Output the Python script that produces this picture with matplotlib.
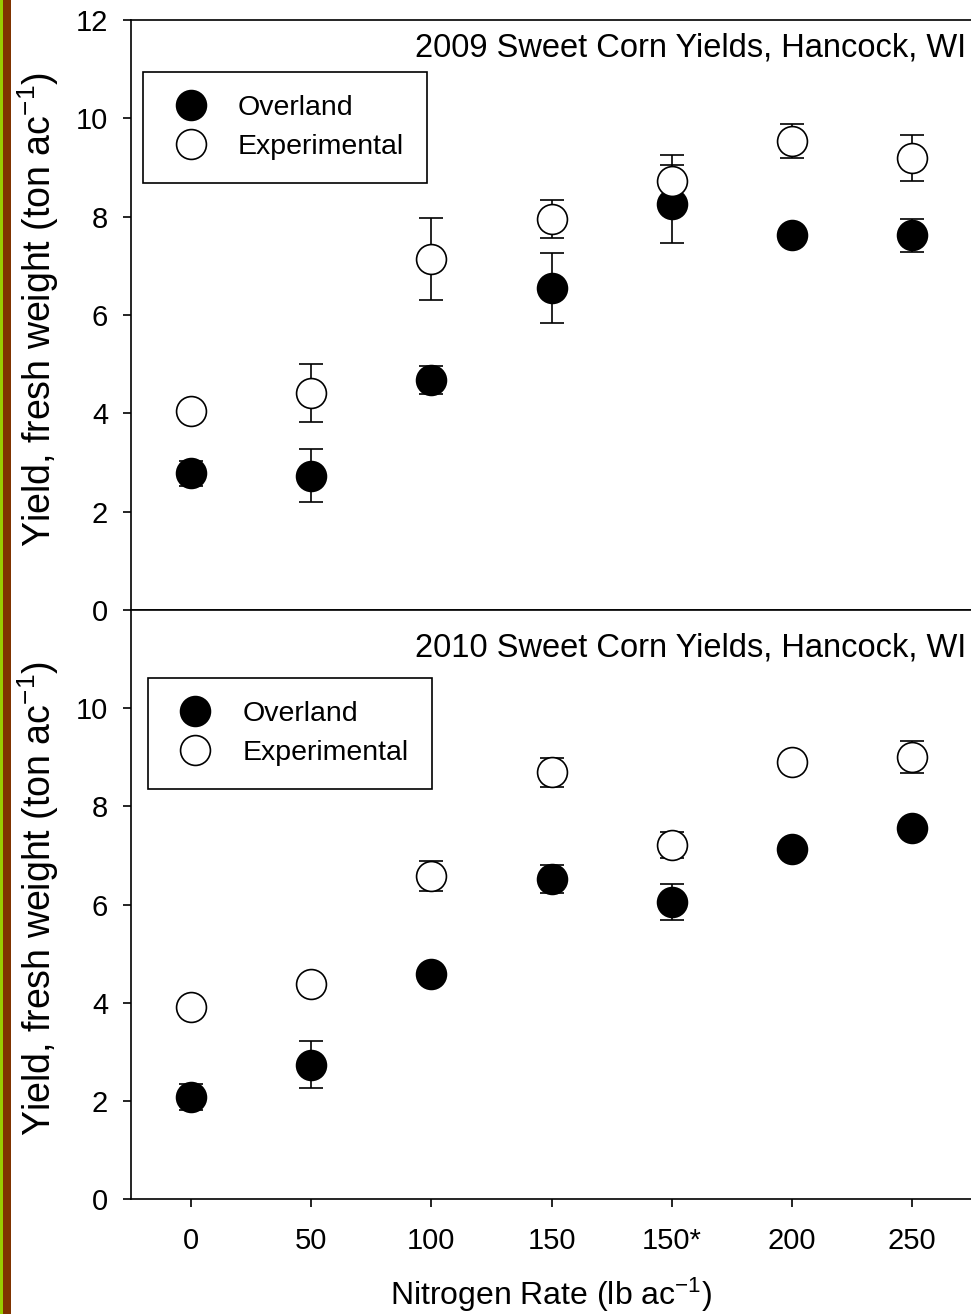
import matplotlib
matplotlib.use("Agg")
import matplotlib.pyplot as plt
from matplotlib.patches import Rectangle
from matplotlib.lines import Line2D
import numpy as np

plt.rcParams['font.family'] = ['Liberation Sans', 'DejaVu Sans']
plt.rcParams['mathtext.fontset'] = 'custom'
plt.rcParams['mathtext.rm'] = 'Liberation Sans'
plt.rcParams['mathtext.it'] = 'Liberation Sans:italic'

# nitrogen rate categories (150* is a separate treatment)
rates = ['0', '50', '100', '150', '150*', '200', '250']

# 2009 yields, ton/ac
overland_2009 = [2.78, 2.73, 4.68, 6.55, 8.26, 7.63, 7.62]
overland_2009_err = [0.25, 0.54, 0.29, 0.72, 0.79, 0.15, 0.34]
exper_2009 = [4.05, 4.41, 7.14, 7.95, 8.73, 9.54, 9.19]
exper_2009_err = [0.1, 0.59, 0.83, 0.38, 0.52, 0.35, 0.47]

# 2010 yields, ton/ac
overland_2010 = [2.08, 2.74, 4.58, 6.52, 6.05, 7.13, 7.55]
overland_2010_err = [0.26, 0.48, 0.1, 0.29, 0.36, 0.1, 0.1]
exper_2010 = [3.91, 4.39, 6.58, 8.69, 7.21, 8.91, 9.01]
exper_2010_err = [0.1, 0.1, 0.31, 0.29, 0.27, 0.1, 0.33]

titles = ['2009 Sweet Corn Yields, Hancock, WI', '2010 Sweet Corn Yields, Hancock, WI']

W, H = 971, 1314
fig = plt.figure(figsize=(W / 100, H / 100), dpi=100)

# decorative bar on the left edge
fig.patches.append(Rectangle((0, 0), 3 / W, 1, transform=fig.transFigure,
                             facecolor='#99cc00', edgecolor='none'))
fig.patches.append(Rectangle((3 / W, 0), 8 / W, 1, transform=fig.transFigure,
                             facecolor='#7f3300', edgecolor='none'))

left = 131 / W
width = 841 / W
ax1 = fig.add_axes([left, 1 - 610 / H, width, 590 / H])
ax2 = fig.add_axes([left, 1 - 1199 / H, width, 589 / H])

x = np.arange(len(rates))
tick_fs = 21
leg_fs = 20.5
title_fs = 23.5
ms = 21.5

def draw_panel(ax, ov, ov_err, ex, ex_err, title, legpos, yticks):
    ax.errorbar(x, ov, yerr=ov_err, fmt='o', color='black', ms=ms,
                mfc='black', mec='black', mew=1.2, elinewidth=1.2,
                capsize=8.5, capthick=1.2, zorder=3)
    ax.errorbar(x, ex, yerr=ex_err, fmt='o', color='black', ms=ms,
                mfc='white', mec='black', mew=1.2, elinewidth=1.2,
                capsize=8.5, capthick=1.2, zorder=4)
    ax.set_xlim(-0.5, 6.5)
    ax.set_ylim(0, 12)
    ax.set_yticks(yticks)
    ax.spines['right'].set_visible(False)
    for s in ['left', 'top', 'bottom']:
        ax.spines[s].set_linewidth(1.2)
    ax.tick_params(axis='y', direction='out', length=5.5, width=1.2,
                   labelsize=tick_fs, pad=11)
    ax.text(0.993, legpos[2], title, transform=ax.transAxes, ha='right',
            va='center', fontsize=title_fs)
    handles = [Line2D([], [], ls='none', marker='o', ms=ms, mfc='black',
                      mec='black', mew=1.2),
               Line2D([], [], ls='none', marker='o', ms=ms, mfc='white',
                      mec='black', mew=1.2)]
    leg = ax.legend(handles, ['Overland', 'Experimental'], loc='upper left',
                    bbox_to_anchor=(legpos[0], legpos[1]), borderaxespad=0,
                    fontsize=leg_fs, frameon=True, fancybox=False, framealpha=1,
                    edgecolor='black', handletextpad=0.8, borderpad=0.82,
                    labelspacing=0.45, handlelength=1.7)
    leg.get_frame().set_linewidth(1.2)
    ax.set_ylabel('Yield, fresh weight (ton ac$^{-1}$)', fontsize=27, va='center')
    ax.yaxis.set_label_coords(-93 / 841, 0.51)

draw_panel(ax1, overland_2009, overland_2009_err, exper_2009, exper_2009_err,
           titles[0], (0.0143, 0.912, 0.9525), [0, 2, 4, 6, 8, 10, 12])
draw_panel(ax2, overland_2010, overland_2010_err, exper_2010, exper_2010_err,
           titles[1], (0.020, 0.885, 0.9355), [0, 2, 4, 6, 8, 10])

ax1.tick_params(axis='x', bottom=False, labelbottom=False)
ax2.set_xticks(x)
ax2.set_xticklabels(rates)
ax2.tick_params(axis='x', direction='out', length=5.5, width=1.2,
                labelsize=tick_fs, pad=14.5)
ax2.set_xlabel('Nitrogen Rate (lb ac$^{-1}$)', fontsize=23, va='center')
ax2.xaxis.set_label_coords(0.5, -(1295 - 1199) / 589)

fig.savefig('out.png', dpi=100)
